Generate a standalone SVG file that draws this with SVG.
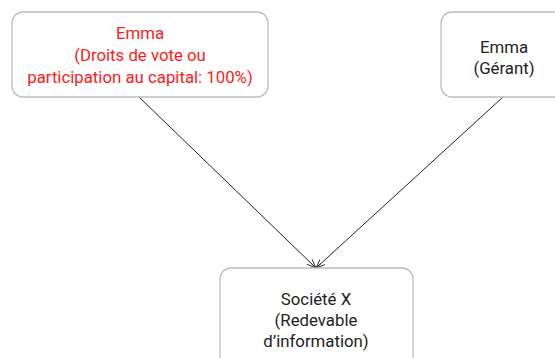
<svg xmlns="http://www.w3.org/2000/svg" width="555" height="358" viewBox="0 0 555 358">
<style>
.box{fill:#fff;stroke:#bdbdbd;stroke-width:1.3}
.t{font-family:Roboto,"Noto Sans",sans-serif;font-size:16.8px;text-anchor:middle;fill:#222}
.red{fill:#ff1a1a}
.edge{stroke:#222;stroke-width:1;fill:none;marker-end:url(#arr)}
</style>
<defs>
<marker id="arr" viewBox="0 0 10 10" refX="10" refY="5" markerWidth="9" markerHeight="9" markerUnits="userSpaceOnUse" orient="auto">
<path d="M0,1 L10,5 L0,9 M10,5 L3,5" fill="none" stroke="#222" stroke-width="1"/>
</marker>
</defs>
<rect width="555" height="358" fill="#fff"/>
<g id="connectors">
<line class="edge" x1="139" y1="97" x2="316" y2="268"/>
<line class="edge" x1="503" y1="97" x2="316" y2="268"/>
</g>
<g id="emma-capital">
<rect class="box" x="12" y="12" width="256" height="85" rx="11"/>
<text class="t red" x="140" y="39">Emma</text>
<text class="t red" x="140" y="61">(Droits de vote ou</text>
<text class="t red" x="140" y="83">participation au capital: 100%)</text>
</g>
<g id="emma-gerant">
<rect class="box" x="441" y="12" width="130" height="85" rx="11"/>
<text class="t" x="504" y="53">Emma</text>
<text class="t" x="504" y="74">(Gérant)</text>
</g>
<g id="societe-x">
<rect class="box" x="220" y="268" width="193" height="100" rx="11"/>
<text class="t" x="316" y="305">Société X</text>
<text class="t" x="316" y="326">(Redevable</text>
<text class="t" x="316" y="347">d’information)</text>
</g>
</svg>
